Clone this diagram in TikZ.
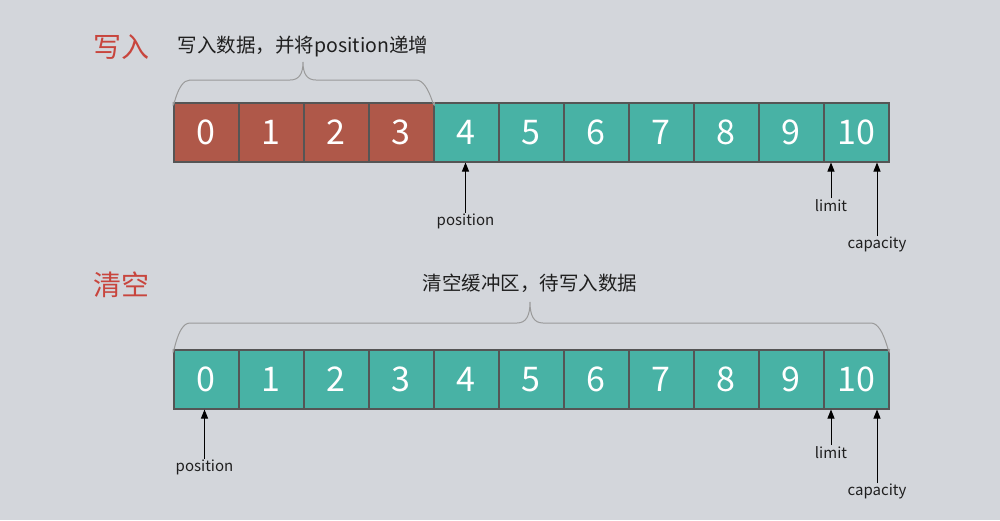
\documentclass[tikz,border=0pt]{standalone}
\usepackage{fontspec}
\setmainfont{Noto Sans CJK SC}
\usetikzlibrary{arrows.meta}
\definecolor{bgc}{HTML}{D3D6DB}
\definecolor{redc}{HTML}{AF5849}
\definecolor{tealc}{HTML}{48B2A5}
\definecolor{edgec}{HTML}{555555}
\definecolor{titlec}{HTML}{C8453D}
\definecolor{bracec}{HTML}{9A9A9A}
\tikzset{
  cell/.style={draw=edgec, line width=1.5pt, minimum width=65pt, minimum height=59pt, inner sep=0pt, text=white, font=\fontsize{34}{34}\selectfont, anchor=north west},
  redcell/.style={cell, fill=redc},
  tealcell/.style={cell, fill=tealc},
  titletext/.style={text=titlec, font=\fontsize{28}{28}\selectfont, inner sep=0pt},
  captext/.style={text=black!88, font=\fontsize{19.5}{19.5}\selectfont, inner sep=0pt},
  lbl/.style={text=black!88, font=\fontsize{15}{15}\selectfont, inner sep=1pt, anchor=north},
  ptr/.style={draw=black, line width=1pt, -{Triangle[width=7pt,length=9pt]}},
  bracepath/.style={draw=bracec, line width=1pt},
}
\begin{document}
\begin{tikzpicture}[x=1pt,y=-1pt]
\useasboundingbox (0,0) rectangle (1000,520);
\fill[bgc] (0,0) rectangle (1000,520);
% top row
\node[titletext] (t1) at (121,47) {写入};
\node[captext] (cap1) at (303,47) {写入数据，并将position递增};
\foreach \i in {0,...,10}{
  \ifnum\i<4
    \node[redcell] (a\i) at (173+65*\i,102) {\i};
  \else
    \node[tealcell] (a\i) at (173+65*\i,102) {\i};
  \fi
}
\draw[bracepath] (a0.north west) .. controls ([yshift=-14]a0.north west) and (176,80) .. (190,80) -- (290,80) .. controls (299,80) and (303,74) .. (303,62) .. controls (303,74) and (307,80) .. (316,80) -- (416,80) .. controls (430,80) and ([yshift=-14]a3.north east) .. (a3.north east);
\node[lbl] (pos1) at (465.5,213) {position};
\node[lbl] (lim1) at (831,198) {limit};
\node[lbl] (capa1) at (877,236) {capacity};
\draw[ptr] (pos1.north) -- (pos1.north |- a4.south);
\draw[ptr] (lim1.north) -- (lim1.north |- a10.south);
\draw[ptr] (capa1.north) -- (capa1.north |- a10.south);
% bottom row
\node[titletext] (t2) at (121,285) {清空};
\node[captext] (cap2) at (530,283) {清空缓冲区，待写入数据};
\foreach \i in {0,...,10}{
  \node[tealcell] (b\i) at (173+65*\i,349) {\i};
}
\draw[bracepath] (b0.north west) .. controls ([yshift=-14]b0.north west) and (176,323) .. (190,323) -- (517,323) .. controls (526,323) and (530,316) .. (530,302) .. controls (530,316) and (534,323) .. (543,323) -- (871,323) .. controls (885,323) and ([yshift=-14]b10.north east) .. (b10.north east);
\node[lbl] (pos2) at (204.5,459) {position};
\node[lbl] (lim2) at (831,445) {limit};
\node[lbl] (capa2) at (877,483) {capacity};
\draw[ptr] (pos2.north) -- (pos2.north |- b0.south);
\draw[ptr] (lim2.north) -- (lim2.north |- b10.south);
\draw[ptr] (capa2.north) -- (capa2.north |- b10.south);
\end{tikzpicture}
\end{document}
